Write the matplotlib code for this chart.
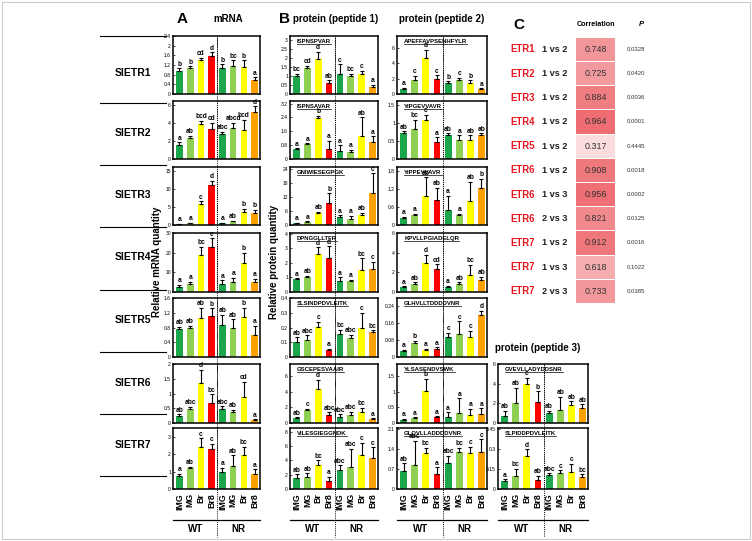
import matplotlib
matplotlib.use('Agg')
import matplotlib.pyplot as plt
from matplotlib.lines import Line2D
from matplotlib.patches import Rectangle
import numpy as np

plt.rcParams['font.family'] = ['Liberation Sans', 'DejaVu Sans']

W, H = 752, 541

groups = ['IMG', 'MG', 'Br', 'Br8', 'IMG', 'MG', 'Br', 'Br8']
bar_colors = ['#1ba64b', '#8fd052', '#ffff00', '#ff0000',
              '#1ba64b', '#8fd052', '#ffff00', '#ffa200']
genes = ['SlETR1', 'SlETR2', 'SlETR3', 'SlETR4', 'SlETR5', 'SlETR6', 'SlETR7']

# ---- panel A : mRNA -------------------------------------------------------
mrna_ylim = [2.4, 6.4, 16, 30, 1.6, 2.0, 3.5]
mrna_ticks = [[0, 0.4, 0.8, 1.2, 1.6, 2.0, 2.4], [0, 2, 4, 6], [0, 5, 10, 15],
              [0, 10, 20, 30], [0, 0.4, 0.8, 1.2, 1.6], [0, 0.5, 1.0, 1.5, 2.0],
              [0, 1, 2, 3]]
mrna_values = [[0.96, 1.06, 1.40, 1.58, 1.06, 1.17, 1.12, 0.59],
               [1.54, 2.30, 3.90, 3.33, 2.75, 3.46, 3.20, 5.18],
               [0.3, 0.5, 5.9, 10.9, 0.5, 1.0, 3.7, 3.4],
               [2.6, 3.9, 18.9, 22.8, 4.2, 5.1, 15.0, 5.1],
               [0.77, 0.80, 1.06, 1.10, 0.86, 0.80, 1.09, 0.61],
               [0.24, 0.48, 1.36, 0.68, 0.46, 0.38, 0.88, 0.10],
               [0.77, 1.19, 2.42, 2.31, 0.95, 1.33, 1.96, 0.84]]
mrna_errors = [[0.10, 0.08, 0.10, 0.14, 0.17, 0.23, 0.28, 0.10],
               [0.30, 0.26, 0.30, 0.66, 0.26, 0.53, 1.15, 0.62],
               [0.1, 0.1, 0.6, 1.3, 0.1, 0.2, 0.8, 0.8],
               [1.1, 1.2, 4.0, 4.6, 1.7, 2.0, 4.9, 1.7],
               [0.05, 0.05, 0.27, 0.22, 0.29, 0.22, 0.24, 0.24],
               [0.06, 0.06, 0.44, 0.30, 0.10, 0.06, 0.52, 0.03],
               [0.10, 0.10, 0.49, 0.28, 0.25, 0.60, 0.46, 0.28]]
mrna_letters = [['b', 'b', 'cd', 'd', 'b', 'bc', 'b', 'a'],
                ['a', 'ab', 'bcd', 'cd', 'abc', 'abcd', 'bcd', 'd'],
                ['a', 'a', 'c', 'd', 'a', 'ab', 'b', 'b'],
                ['a', 'a', 'bc', 'c', 'a', 'a', 'b', 'a'],
                ['ab', 'ab', 'ab', 'b', 'ab', 'ab', 'b', 'a'],
                ['ab', 'abc', 'd', 'bc', 'abc', 'ab', 'cd', 'a'],
                ['a', 'ab', 'c', 'c', 'a', 'ab', 'bc', 'a']]

# ---- panel B : protein, peptide 1 -----------------------------------------
pep1_names = ['ISPNSPVAR', 'ISPNSAVAR', 'GNIWIESEGPGK', 'DPNGGLLTFR',
              'SLSINDPDVLEITK', 'GSCEPESVAAIR', 'VILESGIEGGNDK']
pep1_ylim = [3.2, 3.35, 25, 4.05, 0.4, 7.6, 8.5]
pep1_ticks = [[0, 0.5, 1.0, 1.5, 2.0, 2.5, 3.0], [0, 0.8, 1.6, 2.4, 3.2],
              [0, 6, 12, 18, 24], [0, 1, 2, 3, 4], [0, 0.1, 0.2, 0.3, 0.4],
              [0, 2, 4, 6], [0, 2, 4, 6, 8]]
pep1_values = [[1.00, 1.46, 1.92, 0.60, 1.13, 0.97, 1.10, 0.37],
               [0.56, 0.84, 2.38, 0.56, 0.47, 0.43, 1.30, 0.97],
               [0.7, 1.1, 5.3, 9.3, 3.3, 2.6, 4.3, 13.6],
               [0.86, 1.00, 2.60, 2.33, 0.77, 0.74, 1.51, 1.58],
               [0.100, 0.118, 0.205, 0.045, 0.155, 0.132, 0.200, 0.170],
               [0.62, 1.65, 4.33, 1.03, 0.74, 1.03, 1.44, 0.50],
               [1.60, 1.70, 3.30, 1.14, 2.60, 3.10, 4.80, 4.30]]
pep1_errors = [[0.10, 0.10, 0.42, 0.16, 0.50, 0.13, 0.18, 0.15],
               [0.07, 0.07, 0.10, 0.50, 0.33, 0.10, 1.10, 0.33],
               [0.3, 0.5, 0.4, 4.3, 0.9, 1.3, 1.0, 8.7],
               [0.07, 0.10, 0.47, 0.80, 0.23, 0.10, 0.80, 0.50],
               [0.034, 0.030, 0.034, 0.010, 0.030, 0.020, 0.100, 0.010],
               [0.10, 0.15, 1.24, 0.33, 0.37, 0.40, 0.50, 0.10],
               [0.45, 0.50, 0.70, 0.55, 0.70, 2.50, 1.60, 1.50]]
pep1_letters = [['bc', 'cd', 'd', 'ab', 'c', 'bc', 'c', 'a'],
                ['a', 'a', 'b', 'a', 'a', 'a', 'ab', 'a'],
                ['a', 'a', 'ab', 'b', 'a', 'a', 'ab', 'c'],
                ['a', 'ab', 'd', 'd', 'a', 'a', 'bc', 'c'],
                ['ab', 'abc', 'c', 'a', 'bc', 'abc', 'c', 'bc'],
                ['ab', 'c', 'd', 'abc', 'abc', 'abc', 'bc', 'a'],
                ['ab', 'ab', 'bc', 'a', 'abc', 'abc', 'c', 'c']]

# ---- panel B : protein, peptide 2 -----------------------------------------
pep2_names = ['APEFFAVPSENHFYLR', 'YIPGEVVAVR', 'YIPPEVVAVR', 'KPVLLPGIADELQR',
              'GLHVLLTDDDDVNR', 'YLSASENDVSWK', 'GLQVLLADDDDVNR']
pep2_ylim = [7.6, 1.62, 1.95, 6.0, 0.28, 1.9, 2.15]
pep2_ticks = [[0, 2, 4, 6], [0, 0.5, 1, 1.5], [0, 0.6, 1.2, 1.8], [0, 2, 4, 6],
              [0, 0.08, 0.16, 0.24], [0, 0.5, 1, 1.5], [0, 0.7, 1.4, 2.1]]
pep2_values = [[0.7, 1.9, 4.7, 2.0, 1.4, 1.9, 1.4, 0.6],
               [0.72, 0.84, 1.09, 0.48, 0.68, 0.52, 0.54, 0.68],
               [0.23, 0.32, 0.97, 0.83, 0.49, 0.32, 0.80, 1.26],
               [0.50, 0.83, 2.93, 2.33, 0.53, 0.83, 1.77, 1.17],
               [0.028, 0.067, 0.035, 0.039, 0.094, 0.107, 0.097, 0.200],
               [0.10, 0.15, 1.03, 0.18, 0.20, 0.31, 0.26, 0.29],
               [0.64, 0.85, 1.26, 0.53, 0.91, 1.31, 1.28, 1.31]]
pep2_errors = [[0.10, 0.45, 1.10, 0.45, 0.25, 0.20, 0.40, 0.15],
               [0.05, 0.26, 0.14, 0.13, 0.04, 0.14, 0.12, 0.04],
               [0.05, 0.05, 0.63, 0.43, 0.50, 0.05, 0.65, 0.30],
               [0.10, 0.15, 0.83, 0.50, 0.10, 0.15, 1.00, 0.37],
               [0.006, 0.010, 0.005, 0.007, 0.020, 0.063, 0.028, 0.020],
               [0.03, 0.03, 0.40, 0.03, 0.14, 0.48, 0.19, 0.18],
               [0.27, 0.84, 0.20, 0.23, 0.26, 0.15, 0.21, 0.44]]
pep2_letters = [['a', 'c', 'd', 'c', 'b', 'c', 'b', 'a'],
                ['ab', 'bc', 'c', 'a', 'ab', 'a', 'ab', 'ab'],
                ['a', 'a', 'ab', 'ab', 'a', 'a', 'ab', 'b'],
                ['a', 'ab', 'd', 'cd', 'a', 'ab', 'bc', 'ab'],
                ['a', 'b', 'a', 'a', 'c', 'c', 'c', 'd'],
                ['a', 'a', 'b', 'a', 'a', 'a', 'a', 'a'],
                ['ab', 'abc', 'bc', 'a', 'abc', 'bc', 'c', 'c']]

# ---- panel B : protein, peptide 3 (SlETR6, SlETR7 only) --------------------
pep3_names = ['GVEVLLADYDDSNR', 'SLPIDDPDVLEITK']
pep3_ylim = [6.0, 0.46]
pep3_ticks = [[0, 2, 4, 6], [0, 0.15, 0.3, 0.45]]
pep3_values = [[0.75, 2.06, 4.00, 2.13, 1.03, 1.37, 1.80, 1.50],
               [0.058, 0.100, 0.250, 0.070, 0.107, 0.120, 0.130, 0.090]]
pep3_errors = [[0.50, 1.50, 0.60, 1.10, 0.20, 1.30, 0.40, 0.40],
               [0.015, 0.050, 0.050, 0.030, 0.010, 0.020, 0.060, 0.020]]
pep3_letters = [['ab', 'ab', 'c', 'b', 'ab', 'ab', 'ab', 'ab'],
                ['a', 'bc', 'd', 'ab', 'abc', 'c', 'c', 'bc']]

# ---- panel C : correlation table ------------------------------------------
corr_gene = ['ETR1', 'ETR2', 'ETR3', 'ETR4', 'ETR5', 'ETR6', 'ETR6', 'ETR6',
             'ETR7', 'ETR7', 'ETR7']
corr_pair = ['1 vs 2', '1 vs 2', '1 vs 2', '1 vs 2', '1 vs 2', '1 vs 2',
             '1 vs 3', '2 vs 3', '1 vs 2', '1 vs 3', '2 vs 3']
corr_r = [0.748, 0.725, 0.884, 0.964, 0.317, 0.908, 0.956, 0.821, 0.912,
          0.618, 0.733]
corr_p = ['0.0328', '0.0420', '0.0036', '0.0001', '0.4445', '0.0018',
          '0.0002', '0.0125', '0.0016', '0.1022', '0.0385']

# ---- layout (pixels) -------------------------------------------------------
row_top = [36, 101, 167, 233, 298, 364, 428]
row_h = [58, 58, 58, 59, 59, 59, 61]
col_x = {'A': (173, 260), 'B1': (290, 378), 'B2': (397, 487), 'B3': (498, 588)}
XLIM = (-0.6, 7.5)

fig = plt.figure(figsize=(W / 100, H / 100), dpi=100)
titles = []


def px_rect(x0, x1, y0, y1):
    return [x0 / W, 1 - y1 / H, (x1 - x0) / W, (y1 - y0) / H]


def fx(x):
    return x / W


def fy(y):
    return 1 - y / H


def draw_bars(col, row, vals, errs, lets, ylim, ticks, name=None, last=False):
    x0, x1 = col_x[col]
    ax = fig.add_axes(px_rect(x0, x1, row_top[row], row_top[row] + row_h[row]))
    x = np.arange(8)
    ax.bar(x, vals, width=0.62, color=bar_colors, zorder=2)
    ax.errorbar(x, vals, yerr=[np.zeros(8), errs], fmt='none', ecolor='black',
                elinewidth=0.8, capsize=1.4, capthick=0.8, zorder=3)
    for xi, v, e, l in zip(x, vals, errs, lets):
        ax.text(xi, v + e + ylim * 0.01, l, ha='center', va='bottom',
                fontsize=4.8, fontweight='bold', zorder=4)
    ax.set_xlim(*XLIM)
    ax.set_ylim(0, ylim)
    ax.set_yticks(ticks)
    ax.set_yticklabels(['%g' % t for t in ticks])
    ax.tick_params(axis='y', labelsize=3.6, length=1.5, width=0.5,
                   direction='in', pad=1.5)
    if last:
        ax.set_xticks(x)
        ax.set_xticklabels(groups, rotation=90, fontsize=6.3, fontweight='bold')
        ax.tick_params(axis='x', length=0, pad=3)
    else:
        ax.set_xticks([])
    for s in ax.spines.values():
        s.set_linewidth(1.1)
    if name is not None:
        t = ax.text(0.08, 0.955, name, transform=ax.transAxes, ha='left',
                    va='top', fontsize=4.3, fontweight='bold', zorder=5)
        titles.append((ax, t))
    # dotted separator between WT and NR inside axes
    ax.axvline(3.5, color='black', linestyle=(0, (1, 1.2)), linewidth=0.7,
               zorder=1)
    return ax


for i in range(7):
    draw_bars('A', i, mrna_values[i], mrna_errors[i], mrna_letters[i],
              mrna_ylim[i], mrna_ticks[i], last=(i == 6))
    draw_bars('B1', i, pep1_values[i], pep1_errors[i], pep1_letters[i],
              pep1_ylim[i], pep1_ticks[i], name=pep1_names[i], last=(i == 6))
    draw_bars('B2', i, pep2_values[i], pep2_errors[i], pep2_letters[i],
              pep2_ylim[i], pep2_ticks[i], name=pep2_names[i], last=(i == 6))
for j in range(2):
    draw_bars('B3', 5 + j, pep3_values[j], pep3_errors[j], pep3_letters[j],
              pep3_ylim[j], pep3_ticks[j], name=pep3_names[j], last=(j == 1))

# dotted separators in the gaps + WT / NR labels
for col, ytop in [('A', 36), ('B1', 36), ('B2', 36), ('B3', 364)]:
    x0, x1 = col_x[col]
    w = x1 - x0
    xs = x0 + (3.5 - XLIM[0]) / (XLIM[1] - XLIM[0]) * w
    fig.add_artist(Line2D([fx(xs), fx(xs)], [fy(ytop), fy(537)], color='black',
                          linestyle=(0, (1, 1.2)), linewidth=0.7))
    fig.add_artist(Line2D([fx(x0), fx(x1)], [fy(520), fy(520)], color='black',
                          linewidth=0.9))
    xw = x0 + (1.5 - XLIM[0]) / (XLIM[1] - XLIM[0]) * w
    xn = x0 + (5.5 - XLIM[0]) / (XLIM[1] - XLIM[0]) * w
    fig.text(fx(xw), fy(529), 'WT', ha='center', va='center', fontsize=7,
             fontweight='bold')
    fig.text(fx(xn), fy(529), 'NR', ha='center', va='center', fontsize=7,
             fontweight='bold')

# gene labels on the left
sep_y = [36, 103, 165, 227, 290, 352, 414, 476]
for y in sep_y:
    fig.add_artist(Line2D([fx(100), fx(166)], [fy(y), fy(y)], color='black',
                          linewidth=0.8))
label_y = [73, 133, 195, 257, 320, 383, 445]
for g, y in zip(genes, label_y):
    fig.text(fx(133), fy(y), g, ha='center', va='center', fontsize=7.5,
             fontweight='bold')

# panel headings
fig.text(fx(182), fy(19), 'A', ha='center', va='center', fontsize=11,
         fontweight='bold')
fig.text(fx(228), fy(19), 'mRNA', ha='center', va='center', fontsize=7,
         fontweight='bold')
fig.text(fx(284), fy(19), 'B', ha='center', va='center', fontsize=11,
         fontweight='bold')
fig.text(fx(336), fy(19), 'protein (peptide 1)', ha='center', va='center',
         fontsize=7, fontweight='bold')
fig.text(fx(442), fy(19), 'protein (peptide 2)', ha='center', va='center',
         fontsize=7, fontweight='bold')
fig.text(fx(538), fy(348), 'protein (peptide 3)', ha='center', va='center',
         fontsize=7, fontweight='bold')
fig.text(fx(157), fy(262), 'Relative mRNA quantity', ha='center',
         va='center', rotation=90, fontsize=7, fontweight='bold')
fig.text(fx(274), fy(262), 'Relative protein quantity', ha='center',
         va='center', rotation=90, fontsize=7, fontweight='bold')

# panel C
fig.text(fx(519), fy(25), 'C', ha='center', va='center', fontsize=11,
         fontweight='bold')
fig.text(fx(596), fy(25), 'Correlation', ha='center', va='center',
         fontsize=5.2, fontweight='bold')
fig.text(fx(641), fy(25), 'P', ha='center', va='center', fontsize=5.5,
         fontweight='bold', style='italic')
row_y0 = 49.3
row_dy = 24.2
for i, (g, pr, r, p) in enumerate(zip(corr_gene, corr_pair, corr_r, corr_p)):
    yc = row_y0 + i * row_dy
    a = min(1.0, r ** 1.3)
    col = (1 - a * (1 - 0.93), 1 - a * (1 - 0.40), 1 - a * (1 - 0.42))
    fig.add_artist(Rectangle((fx(576), fy(yc + row_dy / 2 - 0.5)),
                             (615 - 576) / W, (row_dy - 1) / H,
                             facecolor=col, edgecolor='none'))
    fig.text(fx(510.5), fy(yc), g, ha='left', va='center', fontsize=6.9,
             fontweight='bold', color='#e8141e')
    fig.text(fx(567.5), fy(yc), pr, ha='right', va='center', fontsize=6.6,
             fontweight='bold', color='#222222')
    fig.text(fx(595.5), fy(yc), '%.3f' % r, ha='center', va='center',
             fontsize=6.4, color='#333333')
    fig.text(fx(636), fy(yc), p, ha='center', va='center', fontsize=4.3,
             color='#333333')

# light frame round the figure
fig.add_artist(Rectangle((0.002, 0.003), 0.996, 0.994, transform=fig.transFigure,
                         facecolor='none', edgecolor='#cccccc', linewidth=0.8))

# underline peptide names
fig.canvas.draw()
rend = fig.canvas.get_renderer()
for ax, t in titles:
    bb = t.get_window_extent(rend).transformed(ax.transAxes.inverted())
    ax.add_line(Line2D([bb.x0, bb.x1], [bb.y0 - 0.005, bb.y0 - 0.005],
                       transform=ax.transAxes, color='black', linewidth=0.5))

fig.savefig('out.png', dpi=100)
